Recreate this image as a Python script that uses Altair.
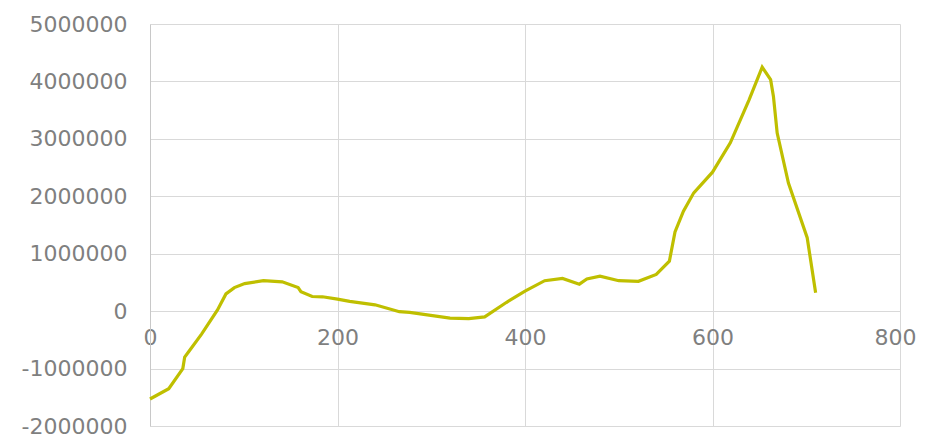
import altair as alt
import pandas as pd

x_vals = [0, 20, 35, 37, 42, 55, 72, 81, 90, 101, 121, 141, 158, 161, 173, 184, 200, 213, 240, 266,
          277, 320, 340, 357, 380, 400, 421, 440, 458, 466, 480, 500, 521, 540, 554, 560, 569, 580, 600, 619,
          639, 653, 662, 665, 669, 681, 701, 710]
y_vals = [-1530000, -1350000, -1000000, -800000, -690000, -400000, 20000, 300000, 410000, 480000,
          530000, 510000, 410000, 340000, 255000, 250000, 210000, 170000, 110000, -10000,
          -20000, -120000, -130000, -100000, 150000, 350000, 530000, 570000, 470000, 560000,
          610000, 530000, 520000, 640000, 870000, 1380000, 1740000, 2060000, 2420000, 2930000,
          3680000, 4250000, 4030000, 3740000, 3100000, 2230000, 1280000, 320000]

x_ticks = [0, 200, 400, 600, 800]
y_ticks = [-2000000, -1000000, 0, 1000000, 2000000, 3000000, 4000000, 5000000]

df = pd.DataFrame({"x": x_vals, "y": y_vals, "i": list(range(len(x_vals)))})

grid_color = "#D9D9D9"
label_color = "#7F7F7F"

chart = alt.Chart(df).mark_line(color="#BFBF00", strokeWidth=3.2).encode(
    x=alt.X("x:Q", scale=alt.Scale(domain=[0, 800], nice=False),
            axis=alt.Axis(values=x_ticks, labelExpr="'' + datum.value", title=None, ticks=False,
                          offset=-115, labelPadding=16, domainColor=grid_color,
                          labelFlush=False, labelOverlap=False, labelBound=False,
                          labelOffset={"condition": {"test": "datum.value == 800", "value": -5}, "value": 0},
                          gridColor=grid_color, labelColor=label_color,
                          labelFontSize=22, labelFont="DejaVu Sans")),
    y=alt.Y("y:Q", scale=alt.Scale(domain=[-2000000, 5000000], nice=False),
            axis=alt.Axis(values=y_ticks, labelExpr="'' + datum.value", title=None, ticks=False,
                          labelPadding=23, domainColor="#C8C8C8",
                          labelOverlap=False,
                          gridColor=grid_color, labelColor=label_color,
                          labelFontSize=22, labelFont="DejaVu Sans")),
    order="i:Q",
).properties(
    width=750, height=402,
    autosize=alt.AutoSizeParams(type="none"),
    padding={"left": 142, "top": 16, "right": 17, "bottom": 9},
).configure_view(stroke=None).configure_axis(gridWidth=1, domainWidth=1)

chart.save("out.html", embed_options={"renderer": "svg", "actions": False})
